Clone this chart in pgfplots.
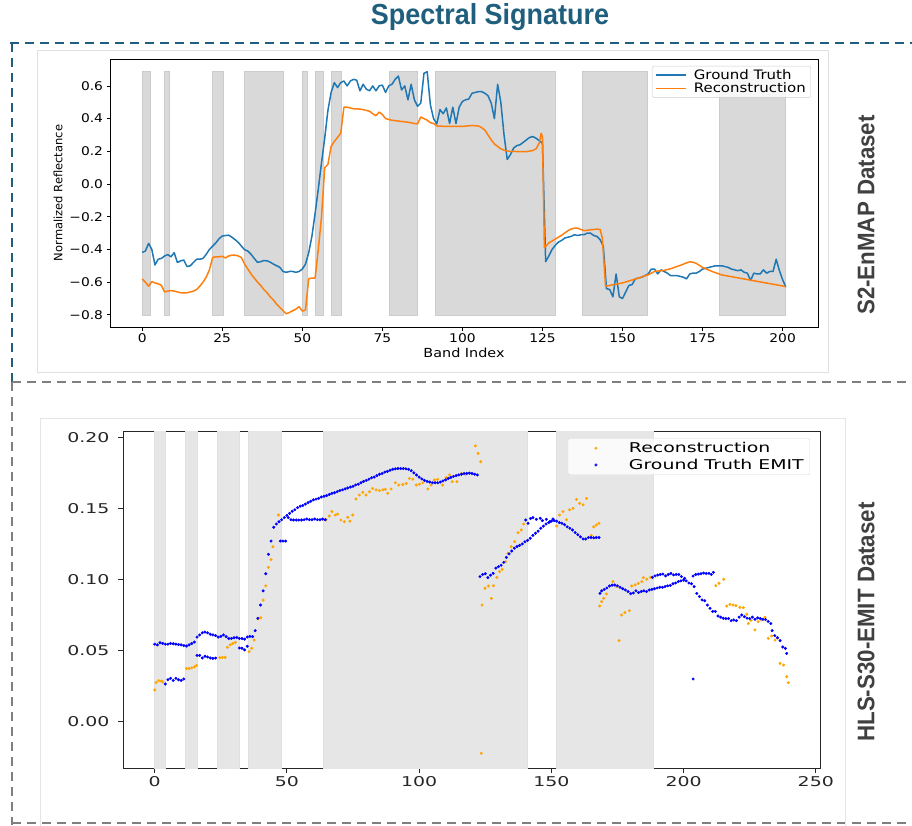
\documentclass[border=0pt]{standalone}
\usepackage{fontspec}
\usepackage{pgfplots}
\pgfplotsset{compat=1.18}
\setmainfont{DejaVu Sans}
\newfontfamily\topfont{DejaVu Sans}[FakeStretch=1.15]
\newfontfamily\botfont{DejaVu Sans}[FakeStretch=1.4]
\newfontfamily\headfont{Liberation Sans}[FakeStretch=0.93]
\definecolor{titleblue}{HTML}{1F5F7D}
\definecolor{labgray}{HTML}{404040}
\definecolor{dashgray}{HTML}{7F7F7F}
\definecolor{mplblue}{HTML}{1F77B4}
\definecolor{mplorange}{HTML}{FF7F0E}
\definecolor{dotorange}{HTML}{FFA500}
\definecolor{spangray}{HTML}{D9D9D9}
\definecolor{spanlight}{HTML}{E6E6E6}
\begin{document}
\begin{tikzpicture}
\path[use as bounding box] (0pt,0pt) rectangle (912pt,-825pt);
% ---------- decorations ----------
\node[font=\headfont\bfseries\fontsize{29}{31}\selectfont, text=titleblue] at (490pt,-17pt) {Spectral Signature};
\draw[titleblue, line width=2.5pt, dash pattern=on 9pt off 6pt] (10pt,-43pt) -- (912pt,-43pt);
\draw[titleblue, line width=2.5pt, dash pattern=on 9pt off 6pt] (12pt,-43pt) -- (12pt,-382pt);
\draw[dashgray, line width=2.5pt, dash pattern=on 9pt off 6pt] (12pt,-382pt) -- (912pt,-382pt);
\draw[dashgray, line width=2.5pt, dash pattern=on 9pt off 6pt] (12pt,-382pt) -- (12pt,-825pt);
\draw[dashgray, line width=2pt, dash pattern=on 9pt off 6pt] (12pt,-823pt) -- (912pt,-823pt);
\draw[black!12, line width=0.8pt] (37pt,-50pt) rectangle (828pt,-372pt);
\draw[black!10, line width=0.8pt] (40pt,-830pt) -- (40pt,-418pt) -- (845pt,-418pt) -- (845pt,-830pt);
\node[rotate=90, font=\headfont\bfseries\fontsize{24}{26}\selectfont, text=labgray] at (866pt,-215pt) {S2-EnMAP Dataset};
\node[rotate=90, font=\headfont\bfseries\fontsize{24}{26}\selectfont, text=labgray] at (866pt,-622pt) {HLS-S30-EMIT Dataset};
% ---------- top axis ----------
\begin{axis}[
  at={(110pt,-327pt)}, anchor=south west,
  scale only axis, width=708pt, height=268pt,
  xmin=-10.05, xmax=211.05, ymin=-0.8745, ymax=0.7645,
  xtick={0,25,50,75,100,125,150,175,200},
  xticklabels={0,25,50,75,100,125,150,175,200},
  ytick={-0.8,-0.6,-0.4,-0.2,0,0.2,0.4,0.6},
  yticklabels={−0.8,−0.6,−0.4,−0.2,0.0,0.2,0.4,0.6},
  tick align=outside, tick pos=left, major tick length=3.5pt,
  axis line style={line width=0.8pt},
  every tick/.style={black, line width=0.8pt},
  ticklabel style={font=\topfont\fontsize{12}{14}\selectfont},
  xlabel={\topfont\fontsize{12.5}{14}\selectfont Band Index},
  ylabel={\fontsize{11.5}{13}\selectfont Normalized Reflectance},
  xlabel style={yshift=2pt},
  legend style={at={(0.99,0.974)}, anchor=north east, draw=black!20, rounded corners=2pt,
    fill=white, fill opacity=0.8, text opacity=1, font=\topfont\fontsize{13}{15}\selectfont,
    inner xsep=3pt, inner ysep=1pt, row sep=-1.5pt},
  legend cell align=left,
  legend image code/.code={\draw[#1, line width=1.5pt] (0pt,0pt) -- (30pt,0pt); \path[draw=none, fill=none] (0pt,0pt) -- (36pt,0pt);},
]
\addplot[forget plot, fill=spangray, draw=black!20] coordinates {(0,-0.8) (2.4,-0.8) (2.4,0.69) (0,0.69)} -- cycle;
\addplot[forget plot, fill=spangray, draw=black!20] coordinates {(7,-0.8) (8.3,-0.8) (8.3,0.69) (7,0.69)} -- cycle;
\addplot[forget plot, fill=spangray, draw=black!20] coordinates {(22,-0.8) (25.4,-0.8) (25.4,0.69) (22,0.69)} -- cycle;
\addplot[forget plot, fill=spangray, draw=black!20] coordinates {(32,-0.8) (44.1,-0.8) (44.1,0.69) (32,0.69)} -- cycle;
\addplot[forget plot, fill=spangray, draw=black!20] coordinates {(50,-0.8) (51.4,-0.8) (51.4,0.69) (50,0.69)} -- cycle;
\addplot[forget plot, fill=spangray, draw=black!20] coordinates {(54,-0.8) (56.4,-0.8) (56.4,0.69) (54,0.69)} -- cycle;
\addplot[forget plot, fill=spangray, draw=black!20] coordinates {(59,-0.8) (62.3,-0.8) (62.3,0.69) (59,0.69)} -- cycle;
\addplot[forget plot, fill=spangray, draw=black!20] coordinates {(77,-0.8) (86,-0.8) (86,0.69) (77,0.69)} -- cycle;
\addplot[forget plot, fill=spangray, draw=black!20] coordinates {(91.6,-0.8) (129,-0.8) (129,0.69) (91.6,0.69)} -- cycle;
\addplot[forget plot, fill=spangray, draw=black!20] coordinates {(137.5,-0.8) (157.6,-0.8) (157.6,0.69) (137.5,0.69)} -- cycle;
\addplot[forget plot, fill=spangray, draw=black!20] coordinates {(180.3,-0.8) (200.8,-0.8) (200.8,0.69) (180.3,0.69)} -- cycle;
% Ground truth
\addplot[mplblue, line width=1.5pt, line join=round] table {
0 -0.418
1 -0.41
2 -0.363
3 -0.40
4 -0.495
5 -0.46
6 -0.455
7 -0.44
8 -0.432
9 -0.445
10 -0.42
11 -0.48
12 -0.47
13 -0.465
14 -0.505
15 -0.50
16 -0.48
17 -0.46
18 -0.46
19 -0.455
20 -0.43
21 -0.40
22 -0.38
23 -0.36
24 -0.335
25 -0.318
26 -0.315
27 -0.313
28 -0.325
29 -0.34
30 -0.357
31 -0.38
32 -0.402
33 -0.41
34 -0.43
35 -0.455
36 -0.479
37 -0.475
38 -0.468
39 -0.47
40 -0.478
41 -0.49
42 -0.50
43 -0.51
44 -0.535
45 -0.54
46 -0.535
47 -0.535
48 -0.54
49 -0.535
50 -0.52
51 -0.49
52 -0.42
53 -0.32
54 -0.18
55 -0.03
56 0.13
57 0.28
58 0.45
59 0.56
60 0.62
61 0.59
62 0.62
63 0.63
64 0.60
65 0.63
66 0.64
67 0.635
68 0.57
69 0.61
70 0.58
71 0.57
72 0.60
73 0.57
74 0.60
75 0.605
76 0.56
77 0.60
78 0.61
79 0.64
80 0.66
81 0.575
82 0.60
83 0.515
84 0.61
85 0.515
86 0.475
87 0.495
88 0.677
89 0.687
90 0.484
91 0.40
92 0.367
93 0.455
94 0.43
95 0.465
96 0.37
97 0.47
98 0.37
99 0.47
100 0.505
101 0.515
102 0.52
103 0.555
104 0.56
105 0.565
106 0.565
107 0.555
108 0.54
109 0.495
110 0.40
111 0.61
112 0.50
113 0.30
114 0.15
115 0.18
116 0.22
117 0.235
118 0.24
119 0.255
120 0.27
121 0.285
122 0.29
123 0.28
124 0.265
125 0.25
126 -0.475
127 -0.44
128 -0.40
129 -0.375
130 -0.355
131 -0.345
132 -0.33
133 -0.325
134 -0.32
135 -0.31
136 -0.315
137 -0.31
138 -0.31
139 -0.30
140 -0.30
141 -0.315
142 -0.32
143 -0.34
144 -0.38
145 -0.64
146 -0.645
147 -0.69
148 -0.55
149 -0.69
150 -0.70
151 -0.66
152 -0.62
153 -0.615
154 -0.58
155 -0.575
156 -0.57
157 -0.56
158 -0.55
159 -0.52
160 -0.52
161 -0.55
162 -0.525
163 -0.535
164 -0.545
165 -0.56
166 -0.56
167 -0.56
168 -0.565
169 -0.57
170 -0.58
171 -0.55
172 -0.545
173 -0.545
174 -0.535
175 -0.52
176 -0.515
177 -0.51
178 -0.505
179 -0.50
180 -0.50
181 -0.50
182 -0.505
183 -0.51
184 -0.52
185 -0.525
186 -0.53
187 -0.525
188 -0.54
189 -0.545
190 -0.59
191 -0.545
192 -0.55
193 -0.55
194 -0.525
195 -0.545
196 -0.535
197 -0.535
198 -0.46
199 -0.53
200 -0.585
201 -0.63
};
\addlegendentry{Ground Truth}
% Reconstruction
\addplot[mplorange, line width=1.5pt, line join=round] table {
0 -0.58
1 -0.60
2 -0.625
3 -0.597
4 -0.605
5 -0.61
6 -0.62
7 -0.66
8 -0.655
9 -0.652
10 -0.655
11 -0.66
12 -0.665
13 -0.665
14 -0.665
15 -0.66
16 -0.655
17 -0.645
18 -0.625
19 -0.60
20 -0.57
21 -0.525
22 -0.449
23 -0.445
24 -0.445
25 -0.442
26 -0.452
27 -0.44
28 -0.435
29 -0.435
30 -0.44
31 -0.45
32 -0.49
33 -0.52
34 -0.55
35 -0.575
36 -0.60
37 -0.62
38 -0.645
39 -0.665
40 -0.69
41 -0.71
42 -0.735
43 -0.755
44 -0.775
45 -0.794
46 -0.785
47 -0.775
48 -0.765
49 -0.75
50 -0.777
51 -0.77
52 -0.58
53 -0.575
54 -0.575
55 -0.40
56 -0.20
57 0.10
58 0.12
59 0.23
60 0.26
61 0.285
62 0.31
63 0.47
64 0.47
65 0.465
66 0.46
67 0.46
68 0.458
69 0.455
70 0.45
71 0.445
72 0.43
73 0.418
74 0.44
75 0.425
76 0.40
77 0.395
78 0.39
80 0.385
83 0.378
85 0.37
86 0.368
87 0.41
88 0.40
89 0.39
90 0.375
91 0.37
92 0.355
95 0.352
100 0.352
103 0.358
105 0.355
106 0.345
107 0.33
108 0.30
109 0.27
110 0.245
111 0.23
112 0.215
113 0.207
114 0.202
115 0.20
118 0.198
120 0.198
122 0.205
123 0.215
124 0.25
124.6 0.31
125 0.29
125.6 -0.39
127 -0.36
129 -0.337
131 -0.313
133 -0.285
134 -0.275
135 -0.27
136 -0.27
137 -0.278
138 -0.285
139 -0.283
140 -0.28
141 -0.278
142 -0.276
143 -0.278
143.7 -0.33
144.7 -0.625
150 -0.605
155 -0.575
158 -0.555
160 -0.535
163 -0.528
165 -0.518
168 -0.498
170 -0.482
171 -0.476
172 -0.478
173 -0.485
175 -0.51
178 -0.535
181 -0.556
201 -0.627
};
\addlegendentry{Reconstruction}
\end{axis}
% ---------- bottom axis ----------
\begin{axis}[
  at={(123pt,-768pt)}, anchor=south west,
  scale only axis, width=697pt, height=337pt,
  xmin=-12, xmax=251.6, ymin=-0.0326, ymax=0.2044,
  xtick={0,50,100,150,200,250},
  xticklabels={0,50,100,150,200,250},
  ytick={0,0.05,0.1,0.15,0.2},
  yticklabels={0.00,0.05,0.10,0.15,0.20},
  tick align=outside, tick pos=left, major tick length=5pt,
  axis line style={line width=1pt, black!85},
  every tick/.style={black!85, line width=1pt},
  ticklabel style={font=\botfont\fontsize{13.5}{15}\selectfont, text=black!85},
  yticklabel style={xshift=-5pt},
  legend style={at={(0.9856,0.979)}, anchor=north east, draw=black!15, rounded corners=2pt,
    fill=white, fill opacity=0.8, text opacity=1, font=\botfont\fontsize{13.5}{15}\selectfont,
    inner xsep=4pt, inner ysep=2pt, row sep=1pt},
  legend cell align=left,
  legend image code/.code={\path[draw=none, fill=none] (0pt,0pt) -- (55pt,0pt); \fill[#1] (24pt,0pt) circle[radius=1.3pt];},
]
\addplot[forget plot, fill=spanlight, draw=black!12, line width=1pt] coordinates {(0,-0.1) (4,-0.1) (4,0.3) (0,0.3)} -- cycle;
\addplot[forget plot, fill=spanlight, draw=black!12, line width=1pt] coordinates {(11.6,-0.1) (16.1,-0.1) (16.1,0.3) (11.6,0.3)} -- cycle;
\addplot[forget plot, fill=spanlight, draw=black!12, line width=1pt] coordinates {(23.9,-0.1) (32.2,-0.1) (32.2,0.3) (23.9,0.3)} -- cycle;
\addplot[forget plot, fill=spanlight, draw=black!12, line width=1pt] coordinates {(35.5,-0.1) (48.1,-0.1) (48.1,0.3) (35.5,0.3)} -- cycle;
\addplot[forget plot, fill=spanlight, draw=black!12, line width=1pt] coordinates {(63.8,-0.1) (140.8,-0.1) (140.8,0.3) (63.8,0.3)} -- cycle;
\addplot[forget plot, fill=spanlight, draw=black!12, line width=1pt] coordinates {(151.9,-0.1) (188.5,-0.1) (188.5,0.3) (151.9,0.3)} -- cycle;
% Reconstruction
\addplot[only marks, mark=*, mark size=1.3pt, color=dotorange, mark options={draw=none, fill=dotorange}] table {
0 0.0223
0.5 0.0275
1.5 0.0288
2.5 0.0285
3 0.028
12 0.0373
13 0.0373
14 0.0378
15 0.0385
15.8 0.0396
24.6 0.045
25.6 0.0452
26.6 0.0452
27.5 0.0523
28.5 0.054
29.5 0.055
30.5 0.0558
35.7 0.0492
36.7 0.0516
37.6 0.0574
39.1 0.0722
40.1 0.0731
41 0.0855
42 0.0955
43 0.1085
44 0.114
44.7 0.123
46.8 0.1453
63.5 0.1423
64.8 0.142
66 0.1446
67 0.1477
68.3 0.1453
69.2 0.146
70.4 0.1418
71.7 0.1406
73 0.1437
73.8 0.141
74.9 0.1453
76.1 0.1566
77.4 0.1594
78.7 0.1613
79.9 0.1594
81.2 0.1617
82.4 0.164
83.7 0.163
85 0.1625
86.3 0.163
87.2 0.1634
88.1 0.1606
89.4 0.1636
91 0.168
92.3 0.1664
93.8 0.1668
95.1 0.1675
96.3 0.171
97.6 0.1705
98.9 0.1664
100.1 0.167
101.4 0.168
103.3 0.1636
104.5 0.1664
105.8 0.170
107 0.1704
108.9 0.1664
110.2 0.1716
111.5 0.1735
112.5 0.1688
114.3 0.1688
116 0.1746
117.5 0.174
121.3 0.1939
122.3 0.1887
123.3 0.1828
123.5 -0.0223
123.8 0.082
124.9 0.0938
126.2 0.0954
127.3 0.0867
128.1 0.0956
129.4 0.1015
130.4 0.1055
131.4 0.1071
132.7 0.1125
133.6 0.1184
134.8 0.1231
136.1 0.1266
137.4 0.1329
138.6 0.1348
139.5 0.139
152 0.1376
153.1 0.1453
154.4 0.1477
155.7 0.142
156.9 0.149
158.2 0.150
159.5 0.1563
160.7 0.1535
162 0.1525
163.3 0.157
165.1 0.131
166 0.137
167 0.1383
168 0.1395
168.3 0.0813
169 0.0844
169.8 0.0868
170.8 0.0898
173.3 0.0985
174.6 0.095
175.6 0.057
176.5 0.075
177.8 0.0767
179.5 0.078
180.4 0.0954
181.7 0.0962
182.9 0.0973
184.2 0.0985
184.8 0.1013
186.1 0.1002
187.4 0.1015
212.2 0.0956
213.4 0.0973
215.2 0.1001
216.3 0.0813
217.5 0.0825
218.7 0.082
219.8 0.0816
221.3 0.0804
222.6 0.0802
223.9 0.0755
224.5 0.069
225.5 0.0713
227 0.0645
228.2 0.0703
229.5 0.0715
230.8 0.0734
232 0.0586
233.3 0.0602
234.6 0.0574
235.5 0.059
236.5 0.041
237.8 0.0398
239 0.0316
239.6 0.0274
};
\addlegendentry{Reconstruction}
% Ground truth EMIT
\addplot[only marks, mark=*, mark size=1.3pt, color=blue, mark options={draw=none, fill=blue}] table {
0 0.0545
1 0.054
2 0.0555
3 0.055
4 0.0545
5 0.0545
6 0.055
7 0.0548
8 0.0545
9 0.0542
10 0.054
11 0.0535
12 0.0532
13 0.054
14 0.055
15 0.056
16 0.0595
17 0.061
18 0.0625
19 0.063
20 0.0625
21 0.0615
22 0.061
23 0.0605
24 0.0595
25 0.060
26 0.061
27 0.0598
28 0.0585
29 0.0585
30 0.059
31 0.0592
32 0.0585
33 0.0585
34 0.058
35 0.0595
36 0.060
37 0.0598
38 0.064
39 0.0727
40 0.082
41 0.092
42 0.104
43 0.1177
44 0.127
45 0.1367
46 0.139
47 0.1406
48 0.142
49 0.1435
50 0.145
51 0.1465
52 0.148
53 0.149
54 0.1505
55 0.1515
56 0.152
57 0.153
58 0.154
59 0.155
60 0.156
61 0.1565
62 0.157
63 0.158
64 0.1585
65 0.159
66 0.1597
67 0.1605
68 0.161
69 0.1617
70 0.1625
71 0.163
72 0.1637
73 0.1643
74 0.165
75 0.1655
76 0.1665
77 0.167
78 0.168
79 0.169
80 0.1697
81 0.1705
82 0.1715
83 0.172
84 0.173
85 0.174
86 0.1745
87 0.1755
88 0.176
89 0.1768
90 0.1775
91 0.1778
92 0.178
93 0.178
94 0.178
95 0.1778
96 0.1775
97 0.1765
98 0.175
99 0.1735
100 0.172
101 0.1707
102 0.1697
103 0.169
104 0.1685
105 0.168
106 0.168
107 0.168
108 0.1685
109 0.1693
110 0.170
111 0.171
112 0.1718
113 0.1725
114 0.173
115 0.1735
116 0.174
117 0.1745
118 0.1745
119 0.1748
120 0.1745
121 0.174
122 0.1735
4 0.0265
5 0.0295
6 0.0305
7 0.029
8 0.0305
9 0.0295
10 0.029
11 0.030
16 0.0466
17 0.0466
18 0.0448
19 0.046
20 0.0455
21 0.0448
22 0.0445
23 0.0447
32 0.0518
33 0.0516
34 0.0505
35 0.053
47.5 0.127
48.5 0.127
49.5 0.127
50.5 0.1435
51.5 0.142
52.5 0.1418
53.5 0.1418
54.5 0.1418
55.5 0.1418
56.5 0.142
57.5 0.1425
58.5 0.142
59.5 0.142
60.5 0.1425
61.5 0.142
62.5 0.142
63.5 0.1425
64.5 0.142
123 0.102
124 0.1035
125 0.104
126 0.1013
127 0.103
128 0.1043
129 0.108
130 0.109
131 0.110
132 0.112
133 0.1155
134 0.118
135 0.120
136 0.122
137 0.1232
138 0.124
139 0.125
140 0.1265
141 0.1275
142 0.129
143 0.131
144 0.1325
145 0.134
146 0.136
147 0.1375
148 0.139
149 0.140
150 0.141
151 0.1415
152 0.141
153 0.140
154 0.1395
155 0.1385
156 0.137
157 0.136
158 0.1348
159 0.133
160 0.1315
161 0.130
162 0.1285
163 0.1285
164 0.1295
165 0.1295
166 0.1293
167 0.1295
168 0.1295
140.3 0.1418
141.2 0.1395
142.1 0.1428
143 0.1435
144.3 0.1423
145.8 0.143
146.6 0.1414
148.1 0.1423
149.4 0.1406
150.6 0.1425
168.4 0.0902
169 0.092
170 0.093
171 0.094
172 0.0954
173 0.096
174 0.0961
175 0.0955
176 0.0945
177 0.0935
178 0.0926
179 0.0915
180 0.090
181 0.0905
182 0.092
183 0.0908
184 0.0915
185 0.092
186 0.0915
187 0.0926
188 0.093
189 0.0935
190 0.094
191 0.0945
192 0.0945
193 0.095
194 0.0955
195 0.0958
196 0.097
197 0.0975
198 0.0985
199 0.099
200 0.0995
201 0.099
202 0.0975
203 0.097
204 0.095
205 0.0902
206 0.088
207 0.0856
208 0.085
209 0.082
210 0.0797
211 0.0775
212 0.0775
213 0.0743
214 0.0735
215 0.0727
216 0.0725
217 0.0725
218 0.071
219 0.0715
220 0.071
221 0.0735
222 0.075
223 0.0738
224 0.0728
225 0.0725
226 0.0735
227 0.072
228 0.073
229 0.0725
230 0.072
231 0.0718
232 0.0705
233 0.069
233.5 0.064
234.5 0.0605
235.5 0.059
236.5 0.057
237.5 0.0525
238.5 0.0515
239 0.048
188.2 0.1015
189.2 0.1025
190.2 0.1031
191.2 0.1035
192.2 0.1038
193.2 0.1025
194.2 0.1035
195.2 0.1043
196.2 0.1032
197.2 0.1035
198.2 0.1035
199.2 0.102
200.4 0.1008
203.6 0.1024
204.6 0.1035
205.6 0.1038
206.6 0.104
207.6 0.1045
208.6 0.1042
209.6 0.1043
210.5 0.1035
211.3 0.105
203.6 0.030
};
\addlegendentry{Ground Truth EMIT}
\end{axis}
\end{tikzpicture}
\end{document}
